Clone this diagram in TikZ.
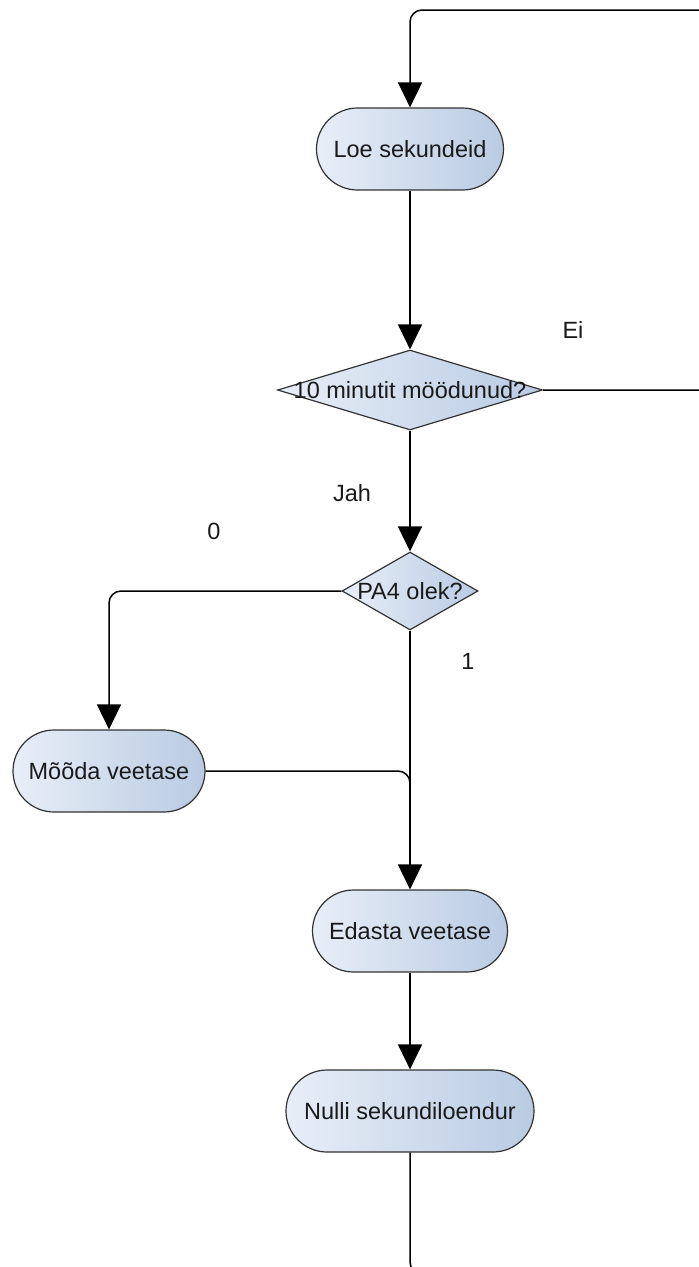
\documentclass[tikz,border=0pt]{standalone}
\usepackage{fontspec}
\setmainfont{Liberation Sans}
\usetikzlibrary{arrows.meta,shapes.geometric}
\definecolor{edgec}{HTML}{333333}
\definecolor{fillL}{HTML}{E8EEF7}
\definecolor{fillR}{HTML}{B9CBE3}
\definecolor{txt}{HTML}{1A1A1A}
\begin{document}
\begin{tikzpicture}[x=1pt,y=-1pt,
  every node/.style={font=\fontsize{23.5}{27}\selectfont, text=txt},
  proc/.style={rectangle, rounded corners=41pt, draw=edgec, line width=1.2pt,
    left color=fillL, right color=fillR, minimum height=82pt, inner sep=0pt},
  dec/.style={diamond, draw=edgec, line width=1.2pt, left color=fillL, right color=fillR,
    inner sep=0pt},
  conn/.style={draw=black, line width=1.5pt, rounded corners=12pt},
  arr/.style={conn, -{Triangle[length=25pt,width=24pt]}},
  lbl/.style={inner sep=0pt}]
\useasboundingbox (0,0) rectangle (699,1267);
\clip (0,0) rectangle (699,1267);
\fill[white] (0,0) rectangle (699,1267);

\node[proc, minimum width=187pt] (loe) at (410,149) {Loe sekundeid};
\node[dec, minimum width=265pt, minimum height=80pt, aspect=3.3] (d1) at (410,390) {\makebox[0pt]{10 minutit möödunud?}};
\node[dec, minimum width=136pt, minimum height=78pt, aspect=1.75] (d2) at (410,591) {\makebox[0pt]{PA4 olek?}};
\node[proc, minimum width=192pt] (mo) at (109,771) {Mõõda veetase};
\node[proc, minimum width=195pt] (ed) at (410,931) {Edasta veetase};
\node[proc, minimum width=248pt] (nu) at (410,1111) {Nulli sekundiloendur};

\node[lbl] (ei) at (573,330) {Ei};
\node[lbl] (jah) at (352,493) {Jah};
\node[lbl] (zero) at (214,531) {0};
\node[lbl] (one) at (468,661) {1};

\coordinate (bl) at (410,1274);
\coordinate (br) at (712,1274);
\coordinate (tr) at (712,10);
\coordinate (tl) at (410,10);
\coordinate (mj) at (410,805);

\draw[arr] (nu.south) -- (bl) -- (br) -- (tr) -- (tl) -- (loe.north);
\draw[conn] (d1.east) -| (tr);
\draw[arr] (loe.south) -- (d1.north);
\draw[arr] (d1.south) -- (d2.north);
\draw[arr] (d2.west) -| (mo.north);
\draw[arr] (d2.south) -- (ed.north);
\draw[conn] (mo.east) -| (mj);
\draw[arr] (ed.south) -- (nu.north);
\end{tikzpicture}
\end{document}
